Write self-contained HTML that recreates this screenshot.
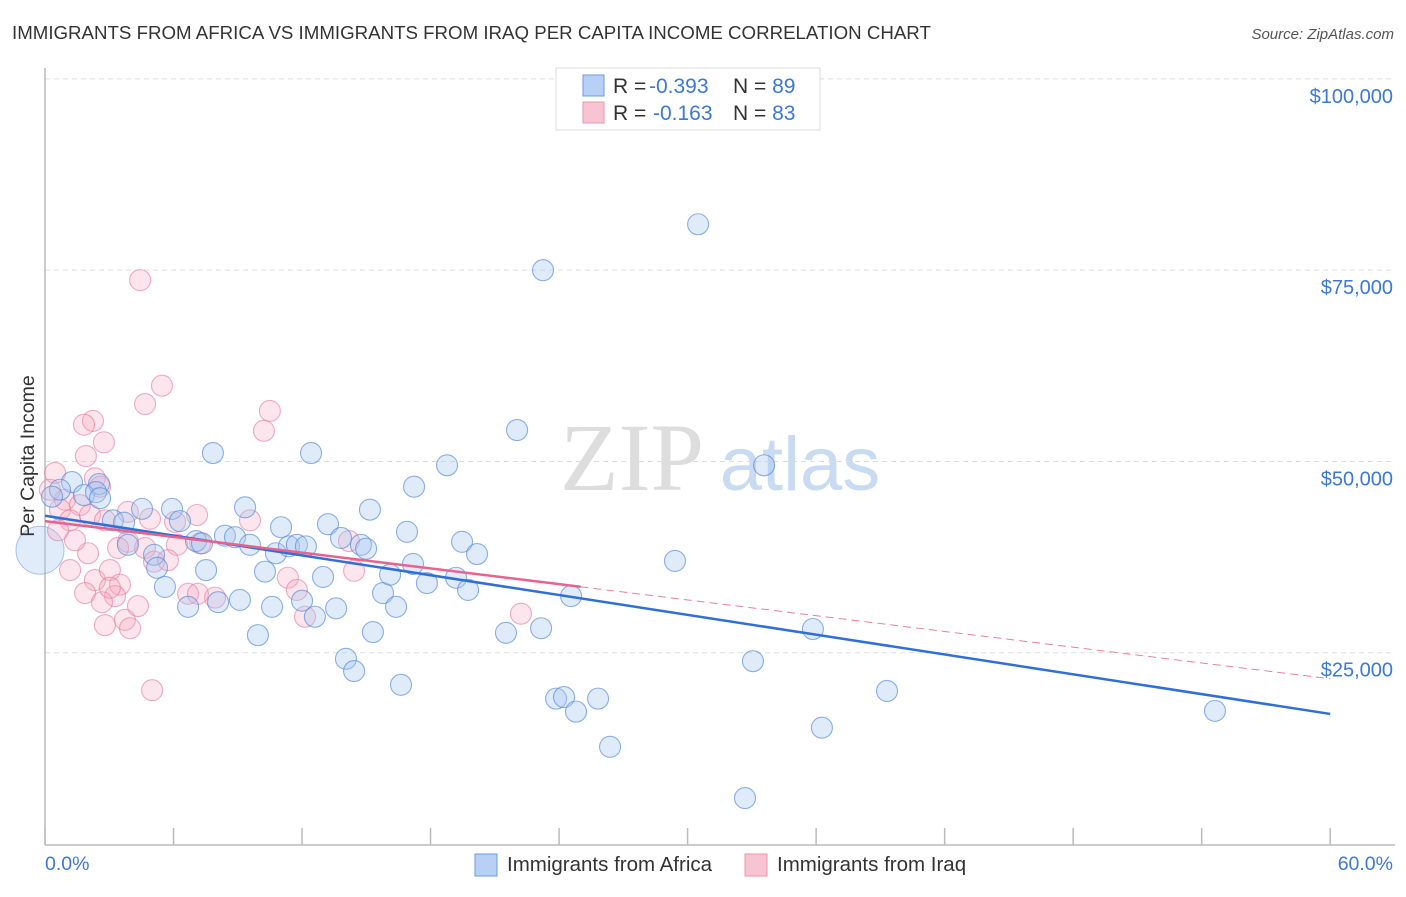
<!DOCTYPE html>
<html><head><meta charset="utf-8"><style>
body{margin:0;background:#fff;font-family:"Liberation Sans",sans-serif}
</style></head><body>
<svg id="c" width="1406" height="892" viewBox="0 0 1406 892" xmlns="http://www.w3.org/2000/svg">
<text x="12" y="39" font-size="18.7" fill="#333">IMMIGRANTS FROM AFRICA VS IMMIGRANTS FROM IRAQ PER CAPITA INCOME CORRELATION CHART</text>
<text x="1394" y="39" font-size="15" fill="#555" font-style="italic" text-anchor="end">Source: ZipAtlas.com</text>
<g><text x="632" y="490" font-size="96" font-family="Liberation Serif,serif" fill="#ddd" text-anchor="middle">ZIP</text><text x="800" y="490" font-size="76" fill="#c9dbf2" text-anchor="middle">atlas</text></g>
<g id="grid"></g><g id="axes"></g><g id="pts"></g><g id="lines"></g>
<text transform="translate(34,456) rotate(-90)" font-size="19.5" fill="#333" text-anchor="middle">Per Capita Income</text>
<g>
<rect x="556" y="68" width="264" height="62" fill="#fff" stroke="#ddd"/>
<rect x="583" y="75" width="21" height="21" fill="#b7d0f3" stroke="#6a9be0"/>
<rect x="583" y="102" width="21" height="21" fill="#f7c4d3" stroke="#ee93ae"/>
<text x="613" y="93" font-size="21" fill="#333">R = <tspan fill="#3b78d8" x="649">-0.393</tspan><tspan x="733">N = </tspan><tspan fill="#3b78d8">89</tspan></text>
<text x="613" y="120" font-size="21" fill="#333">R = <tspan fill="#3b78d8" x="653">-0.163</tspan><tspan x="733">N = </tspan><tspan fill="#3b78d8">83</tspan></text>
</g>
<g>
<rect x="475" y="854" width="22" height="22" fill="#b7d0f3" stroke="#6a9be0"/>
<text x="507" y="871" font-size="20.5" fill="#333">Immigrants from Africa</text>
<rect x="745" y="854" width="22" height="22" fill="#f7c4d3" stroke="#ee93ae"/>
<text x="777" y="871" font-size="20.5" fill="#333">Immigrants from Iraq</text>
</g>
</svg>
<script>
const yTicks=[25000,50000,75000,100000];
const yTickLabels=["$25,000","$50,000","$75,000","$100,000"];
const xTickVals=[0,6,12,18,24,30,36,42,48,54,60];
const blueX=[2.52,1.26,0.70,1.82,2.38,2.57,3.17,3.69,4.53,3.87,5.09,5.23,5.93,6.30,5.60,7.05,7.33,7.52,6.68,7.84,8.08,8.40,8.87,9.10,9.34,9.57,9.94,10.27,10.60,10.78,11.02,11.39,11.76,12.18,12.00,12.42,12.60,12.98,13.21,13.59,13.82,14.05,14.43,14.75,14.99,15.17,15.31,15.78,16.11,16.39,16.62,16.90,17.18,17.23,17.83,18.77,19.19,19.47,19.75,20.17,21.52,22.04,23.16,23.25,23.86,24.23,24.56,24.79,25.82,26.38,29.41,30.49,32.68,33.05,33.57,35.85,36.27,39.31,54.62,0.33];
const blueY=[47.05,47.3,46.3,45.6,46.0,45.2,42.3,42.0,43.8,39.1,37.8,36.1,43.8,42.2,33.6,39.6,39.3,35.8,31.0,51.1,31.6,40.3,40.1,31.9,44.0,39.1,27.3,35.6,31.0,38.0,41.4,38.9,39.1,38.9,31.8,51.1,29.7,34.9,41.8,30.8,40.0,24.2,22.6,39.1,38.6,43.7,27.7,32.8,35.2,31.0,20.8,40.8,36.6,46.7,34.1,49.5,34.8,39.5,33.2,37.9,27.6,54.1,28.2,75.0,19.0,19.2,32.4,17.3,19.0,12.7,37.0,81.0,6.0,23.9,49.5,28.1,15.2,20.0,17.4,45.4];
const pinkX=[4.44,5.46,4.67,10.50,10.22,2.24,1.82,2.75,1.91,0.47,2.33,0.93,1.63,2.57,0.70,1.17,2.10,2.80,3.87,4.90,3.87,3.41,4.67,5.09,6.07,6.16,5.74,7.10,7.24,2.01,1.17,2.33,1.87,3.03,3.50,3.27,2.80,3.73,3.97,4.34,5.00,6.68,7.14,7.94,9.57,11.34,11.76,12.14,14.19,14.43,22.22,1.40,2.66,3.03,0.23,0.61];
const pinkY=[73.7,59.9,57.5,56.6,54.0,55.3,54.8,52.5,50.7,48.5,47.8,45.0,44.3,46.7,43.7,42.3,43.0,42.3,43.4,42.5,39.5,38.7,38.7,36.9,42.1,39.1,37.1,43.0,39.3,38.0,35.8,34.5,32.8,35.8,33.9,32.4,28.6,29.3,28.2,31.1,20.1,32.7,32.7,32.2,42.3,34.8,33.2,29.7,39.6,35.7,30.1,39.7,31.6,33.5,46.3,41.0];
const blueTrend=[42.9,17.0];
const pinkTrend=[42.2,21.6];
const pinkSolidEnd=25;
const NS="http://www.w3.org/2000/svg";
const X=v=>45+v*21.42, Y=k=>844-k/0.1307;
function mk(t,a,p){const e=document.createElementNS(NS,t);for(const k in a)e.setAttribute(k,a[k]);document.getElementById(p).appendChild(e);return e;}
yTicks.forEach((t,i)=>{
 const l=mk('line',{x1:45,x2:1395,y1:Y(t/1000),y2:Y(t/1000),stroke:'#ddd','stroke-dasharray':'5,4'},'grid');
 
 
 const tx=mk('text',{x:1393,y:Y(t/1000)+24,'font-size':20,fill:'#3b78d8','text-anchor':'end'},'grid');
 tx.textContent=yTickLabels[i];
 
 
});
const ya=mk('line',{x1:45,x2:45,y1:68,y2:845,stroke:'#bbb','stroke-width':1.5},'axes');


const xa=mk('line',{x1:45,x2:1395,y1:845,y2:845,stroke:'#bbb','stroke-width':1.5},'axes');


xTickVals.forEach(v=>{const t=mk('line',{x1:X(v),x2:X(v),y1:828,y2:845,stroke:'#bbb','stroke-width':1.5},'axes');
 
 });
const xl0=mk('text',{x:45,y:870,'font-size':19.5,fill:'#3b78d8'},'axes');xl0.textContent='0.0%';


const xl1=mk('text',{x:1393,y:870,'font-size':19.5,fill:'#3b78d8','text-anchor':'end'},'axes');xl1.textContent='60.0%';


const big=mk('circle',{cx:X(0)-5,cy:Y(38.4),r:24,fill:'rgba(170,200,240,0.35)',stroke:'rgba(90,142,222,0.5)'},'pts');


pinkX.forEach((x,i)=>{const c=mk('circle',{cx:X(x),cy:Y(pinkY[i]),r:10.5,fill:'rgba(245,170,192,0.3)',stroke:'rgba(230,120,155,0.6)','stroke-width':1.1},'pts');
 
 });
blueX.forEach((x,i)=>{const c=mk('circle',{cx:X(x),cy:Y(blueY[i]),r:10.5,fill:'rgba(165,198,240,0.35)',stroke:'rgba(80,135,220,0.65)','stroke-width':1.1},'pts');
 
 });
const bl=mk('line',{x1:X(0),y1:Y(blueTrend[0]),x2:X(60),y2:Y(blueTrend[1]),stroke:'#2f6fd6','stroke-width':2.5},'lines');


const pm=k=>pinkTrend[0]+(pinkTrend[1]-pinkTrend[0])*k/60;
const pl=mk('line',{x1:X(0),y1:Y(pinkTrend[0]),x2:X(pinkSolidEnd),y2:Y(pm(pinkSolidEnd)),stroke:'#e8628e','stroke-width':2.5},'lines');


const pd=mk('line',{x1:X(pinkSolidEnd),y1:Y(pm(pinkSolidEnd)),x2:X(60),y2:Y(pinkTrend[1]),stroke:'#e8809f','stroke-width':1,'stroke-dasharray':'8,5'},'lines');


</script>
</body></html>
